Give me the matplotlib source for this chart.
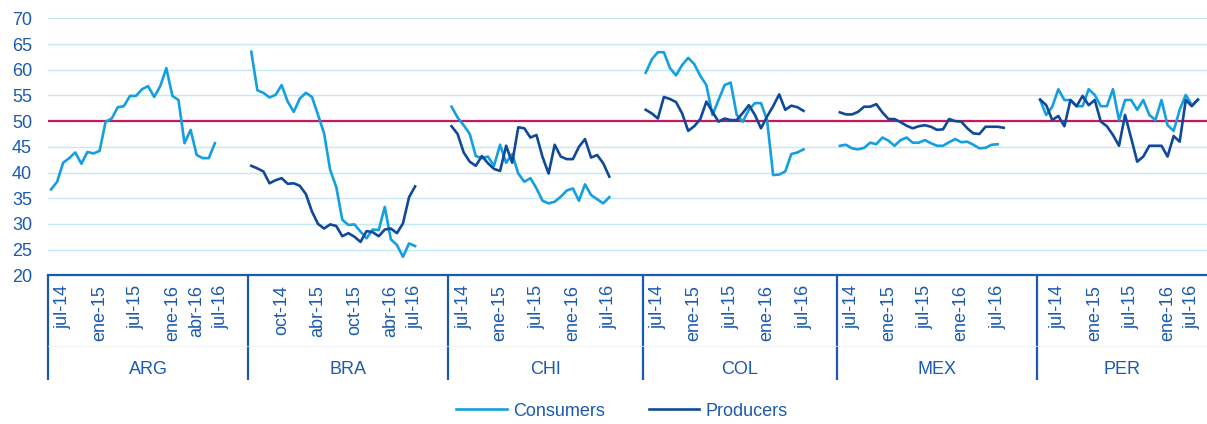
"""
Confianza de consumidores y productores por pais (indices, 50 = neutral).
Un solo eje de categorias con bloques por pais, estilo Excel.
Salida: out.png
"""
import numpy as np
import matplotlib
matplotlib.use("Agg")
import matplotlib.pyplot as plt

plt.rcParams["font.family"] = ["Liberation Sans", "DejaVu Sans"]

countries = ["ARG", "BRA", "CHI", "COL", "MEX", "PER"]
block_len = [33, 33, 32, 32, 33, 28]        # categorias por bloque (incl. meses vacios)

cons_arg = [36.7, 38.2, 41.9, 42.8, 43.9, 41.7, 44.0, 43.7, 44.2, 49.9, 50.5, 52.7, 52.9, 54.9,
            54.9, 56.2, 56.8, 54.7, 56.8, 60.3, 54.9, 54.1, 45.7, 48.3, 43.4, 42.8, 42.8, 45.7]
prod_arg = []

cons_bra = [63.5, 56.0, 55.5, 54.6, 55.1, 57.0, 53.8, 51.8, 54.4, 55.5, 54.7, 51.2, 47.6, 40.5,
            37.2, 30.8, 29.8, 29.9, 28.5, 27.2, 28.9, 28.8, 33.3, 27.0, 25.9, 23.6, 26.2, 25.7]
prod_bra = [41.3, 40.8, 40.2, 37.9, 38.5, 38.9, 37.8, 37.9, 37.4, 35.8, 32.4, 30.0, 29.1, 29.9,
            29.6, 27.6, 28.2, 27.5, 26.5, 28.6, 28.4, 27.6, 28.9, 29.1, 28.2, 30.1, 35.2, 37.3]

cons_chi = [52.8, 50.7, 49.2, 47.5, 43.2, 42.8, 43.1, 41.3, 45.4, 41.9, 43.6, 39.8, 38.2, 38.9,
            36.9, 34.5, 34.0, 34.3, 35.3, 36.5, 36.9, 34.5, 37.7, 35.6, 34.8, 34.0, 35.2]
prod_chi = [49.0, 47.5, 43.9, 42.1, 41.3, 43.2, 41.8, 40.7, 40.3, 45.2, 41.9, 48.8, 48.6, 46.8,
            47.3, 43.0, 39.8, 45.4, 43.1, 42.6, 42.6, 45.0, 46.5, 42.9, 43.4, 41.8, 39.2]

cons_col = [59.4, 62.0, 63.4, 63.4, 60.3, 58.9, 60.9, 62.3, 61.1, 58.8, 57.0, 51.2, 54.1, 57.0,
            57.5, 51.2, 49.9, 52.2, 53.5, 53.5, 50.2, 39.5, 39.6, 40.2, 43.6, 43.9, 44.5]
prod_col = [52.2, 51.5, 50.5, 54.7, 54.3, 53.7, 51.5, 48.1, 49.0, 50.4, 53.8, 51.8, 49.9, 50.5,
            50.2, 50.2, 51.6, 53.1, 51.2, 48.6, 50.9, 52.9, 55.2, 52.2, 53.0, 52.7, 52.0]

cons_mex = [45.2, 45.4, 44.7, 44.5, 44.8, 45.8, 45.5, 46.8, 46.2, 45.2, 46.3, 46.8, 45.8, 45.8,
            46.3, 45.7, 45.2, 45.2, 45.9, 46.5, 45.9, 46.0, 45.4, 44.7, 44.8, 45.4, 45.5]
prod_mex = [51.7, 51.3, 51.3, 51.8, 52.8, 52.8, 53.3, 51.7, 50.4, 50.4, 49.8, 49.1, 48.6, 49.0,
            49.2, 48.9, 48.3, 48.4, 50.4, 50.0, 49.9, 48.6, 47.6, 47.5, 48.9, 48.9, 48.9, 48.7]

cons_per = [54.1, 51.2, 52.8, 56.2, 54.1, 54.1, 52.9, 52.9, 56.2, 55.1, 52.9, 52.9, 56.2, 50.2,
            54.1, 54.1, 52.2, 54.1, 51.2, 50.2, 54.1, 49.2, 48.1, 52.2, 55.1, 53.1, 54.1]
prod_per = [54.2, 53.1, 50.2, 51.0, 49.0, 54.1, 52.9, 54.9, 53.1, 54.1, 49.9, 49.0, 47.3, 45.2,
            51.2, 46.7, 42.1, 43.1, 45.2, 45.2, 45.2, 43.1, 47.1, 46.0, 54.1, 52.9, 54.2]

consumers = [cons_arg, cons_bra, cons_chi, cons_col, cons_mex, cons_per]
producers = [prod_arg, prod_bra, prod_chi, prod_col, prod_mex, prod_per]

# etiquetas de fecha: (mes dentro del bloque, texto)
lab_arg = [(2, "jul-14"), (8, "ene-15"), (14, "jul-15"), (20, "ene-16"), (24, "abr-16"), (28, "jul-16")]
lab_bra = [(5, "oct-14"), (11, "abr-15"), (17, "oct-15"), (23, "abr-16"), (27, "jul-16")]
lab_std = [(2, "jul-14"), (8, "ene-15"), (14, "jul-15"), (20, "ene-16"), (26, "jul-16")]
lab_per = [(3, "jul-14"), (9, "ene-15"), (15, "jul-15"), (21, "ene-16"), (25, "jul-16")]
labels = [lab_arg, lab_bra, lab_std, lab_std, lab_std, lab_per]

C_CONS = "#139FE0"
C_PROD = "#10499A"
C_REF = "#C8175A"
C_GRID = "#C6E7F5"
C_AX = "#1A5AB0"

fig = plt.figure(figsize=(12.07, 4.24), dpi=100)
ax = fig.add_axes([48/1207, 148.7/424, 1159/1207, 257/424])

starts = np.concatenate([[0], np.cumsum(block_len)[:-1]])
total = int(np.sum(block_len))

tick_pos, tick_txt = [], []
for k, c in enumerate(countries):
    s = starts[k]
    cs = consumers[k]
    ax.plot(s + np.arange(len(cs)), cs, color=C_CONS, lw=1.9, zorder=3,
            label="Consumers" if k == 0 else None)
    ps = producers[k]
    if ps:
        ax.plot(s + np.arange(len(ps)), ps, color=C_PROD, lw=1.9, zorder=4,
                label="Producers" if k == 1 else None)
    for m, t in labels[k]:
        tick_pos.append(s + m); tick_txt.append(t)
    ax.text(s - 0.5 + block_len[k]/2, -0.365, c, transform=ax.get_xaxis_transform(),
            ha="center", va="center", fontsize=13, color=C_AX)

ax.axhline(50, color=C_REF, lw=1.6, zorder=2)

ax.set_xlim(-0.5, total - 0.5)
ax.set_ylim(20, 70)
ax.set_yticks(np.arange(20, 71, 5))
ax.yaxis.grid(True, color=C_GRID, lw=1.0)
ax.set_axisbelow(True)
ax.tick_params(axis="y", length=0, pad=11.5, labelsize=13, labelcolor=C_AX)
ax.set_xticks(tick_pos)
ax.set_xticklabels(tick_txt, rotation=90)
ax.tick_params(axis="x", length=0, pad=7, labelsize=13, labelcolor=C_AX)

for sp in ["top", "right", "left"]:
    ax.spines[sp].set_visible(False)
ax.spines["bottom"].set_color(C_AX)
ax.spines["bottom"].set_linewidth(1.6)

# separadores de bloques bajo el eje
xt = ax.get_xaxis_transform()
ax.vlines(starts - 0.5, -0.407, 0, transform=xt, color=C_AX, lw=1.6, clip_on=False)
ax.plot([-0.5, total - 0.5], [-0.275, -0.275], transform=xt, color="#EBEFF4",
        lw=0.5, clip_on=False)

fig.legend(loc="center", bbox_to_anchor=(622/1207, 1 - 411/424), ncol=2, frameon=False,
           fontsize=13, handlelength=2.8, handletextpad=0.35, columnspacing=2.4,
           labelcolor=C_AX)

fig.savefig("out.png", dpi=100)
